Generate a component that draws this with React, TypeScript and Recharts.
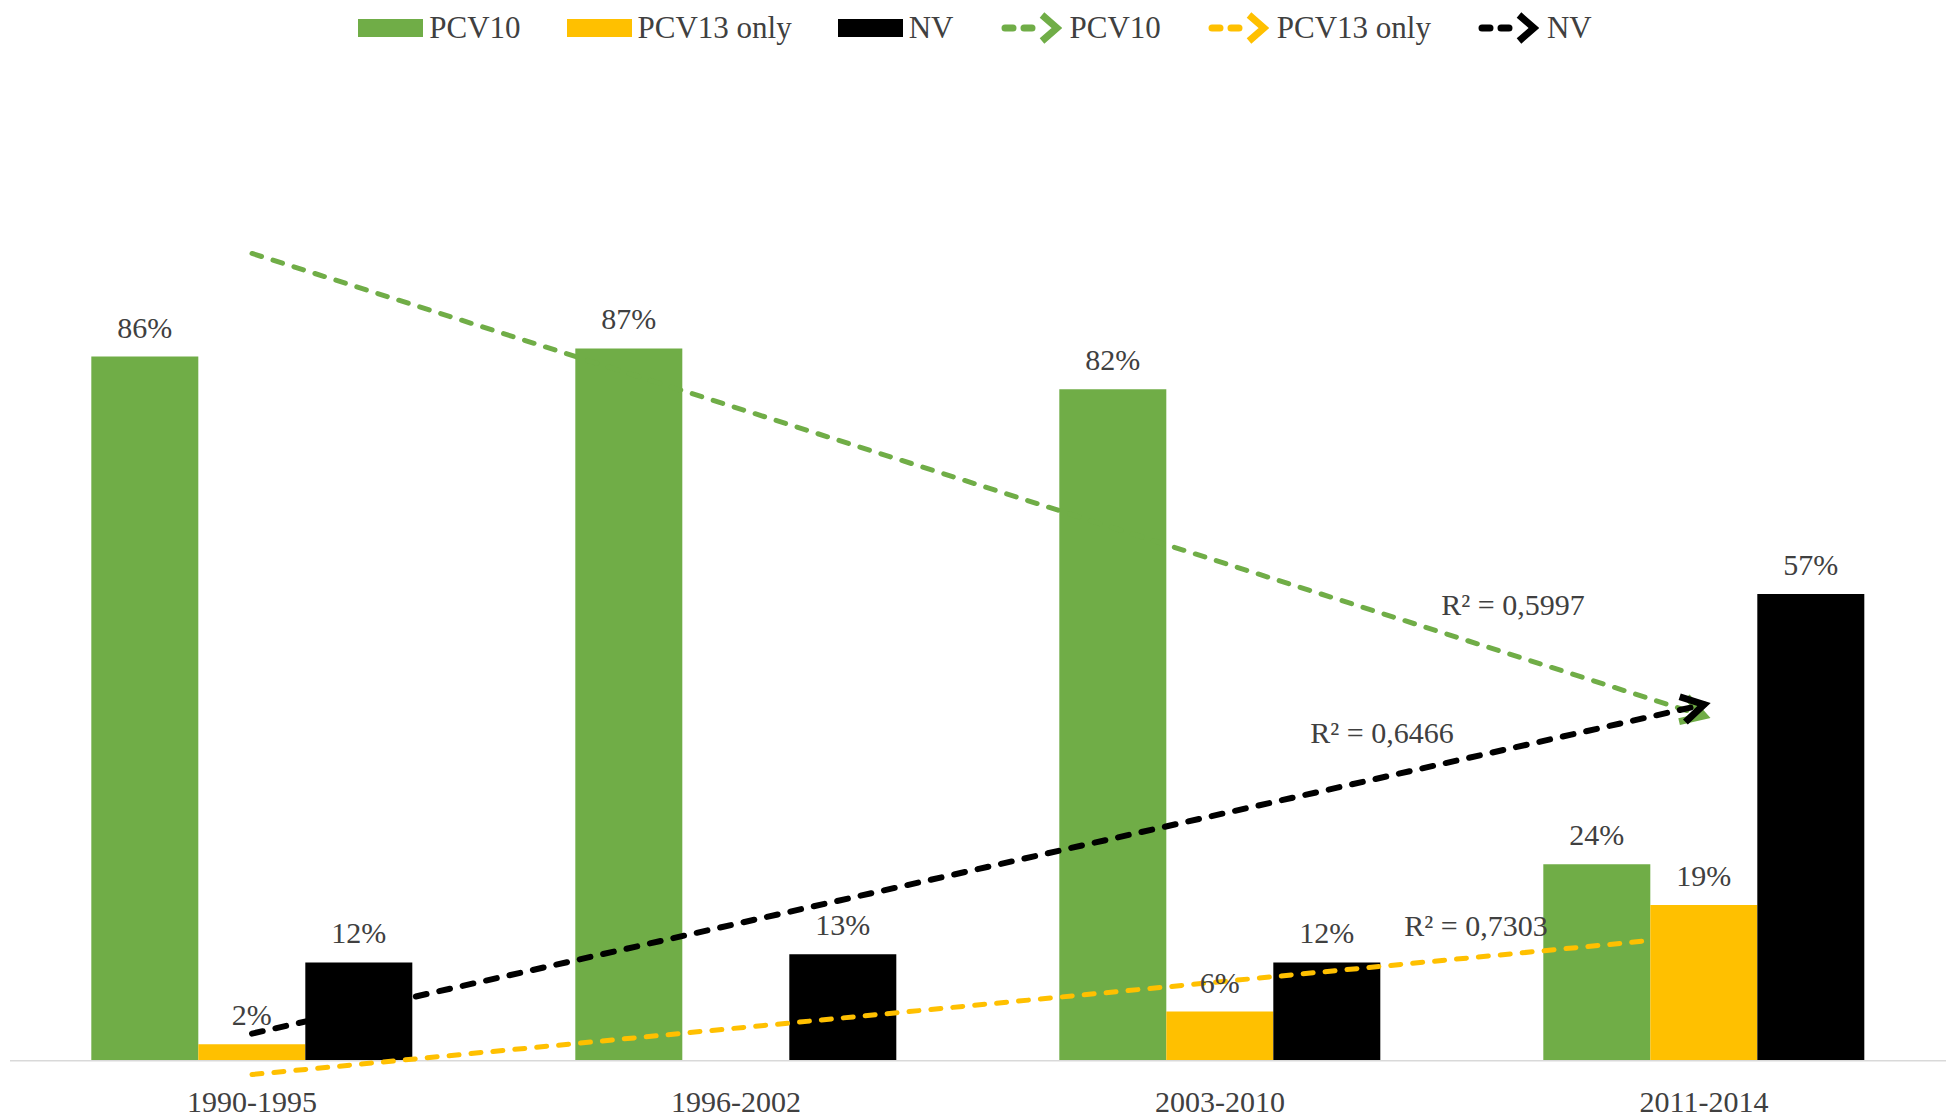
import React from "react";
import {
    ComposedChart,
    Bar,
    Line,
    XAxis,
    YAxis,
    Legend,
    LabelList,
    ReferenceLine,
} from "recharts";

document.body.style.margin = "0";

const periods = ["1990-1995", "1996-2002", "2003-2010", "2011-2014"];
const pcv10 = [86, 87, 82, 24];
const pcv13Only = [2, 0, 6, 19];
const nv = [12, 13, 12, 57];

const pcv10Trend = [98.6, null, null, 42.1];
const pcv13Trend = [-1.7, null, null, 15.3];
const nvTrend = [3.3, null, null, 43.5];

const r2Pcv10 = "R² = 0,5997";
const r2Pcv13 = "R² = 0,7303";
const r2Nv = "R² = 0,6466";

const legendNames = ["PCV10", "PCV13 only", "NV"];

const GREEN = "#70AD47";
const YELLOW = "#FFC000";
const BLACK = "#000000";
const TEXT = "#404040";
const FONT = "'Liberation Serif', 'Times New Roman', serif";

const data = periods.map((period, i) => ({
    period,
    pcv10: pcv10[i],
    pcv13Only: pcv13Only[i],
    nv: nv[i],
    pcv10Trend: pcv10Trend[i],
    pcv13Trend: pcv13Trend[i],
    nvTrend: nvTrend[i],
}));

const colors = [GREEN, YELLOW, BLACK];

const BarValueLabel = (props: any) => {
    const { x, y, width, value } = props;
    if (!value) return null;
    return (
        <text x={x + width / 2} y={y - 19} textAnchor="middle" fill={TEXT} fontSize={30} fontFamily={FONT}>
            {value}%
        </text>
    );
};

// R² text sits next to the end of its trendline
const r2Label = (text: string, dx: number, dy: number) => (props: any) => {
    const { x, y, index } = props;
    if (index !== 3 || x == null || y == null) return <g />;
    return (
        <text x={x + dx} y={y + dy} textAnchor="middle" fill={TEXT} fontSize={30} fontFamily={FONT}>
            {text}
        </text>
    );
};

function BarIcon({ color }: { color: string }) {
    return (
        <svg width={65} height={18} style={{ marginRight: 6 }}>
            <rect x={0} y={0} width={65} height={18} fill={color} />
        </svg>
    );
}

function ArrowIcon({ color }: { color: string }) {
    return (
        <svg width={62} height={36} style={{ marginRight: 8 }}>
            <path d="M 5 18 L 13 18 M 24 18 L 32 18" stroke={color} strokeWidth={7} strokeLinecap="round" />
            <path d="M 42 5 L 57 18 L 42 31" stroke={color} strokeWidth={7} fill="none" />
        </svg>
    );
}

const renderLegend = () => (
    <div
        style={{
            display: "flex",
            justifyContent: "center",
            alignItems: "center",
            height: 55,
            fontFamily: FONT,
            fontSize: 31,
            color: TEXT,
        }}
    >
        {legendNames.map((name, i) => (
            <div key={"b" + name} style={{ display: "flex", alignItems: "center", marginRight: 46 }}>
                <BarIcon color={colors[i]} />
                <span>{name}</span>
            </div>
        ))}
        {legendNames.map((name, i) => (
            <div key={"l" + name} style={{ display: "flex", alignItems: "center", marginRight: i < 2 ? 46 : 0 }}>
                <ArrowIcon color={colors[i]} />
                <span>{name}</span>
            </div>
        ))}
    </div>
);

export default function App() {
    return (
        <div style={{ position: "relative", width: 1950, height: 1119, background: "#fff" }}>
            <svg width={0} height={0} style={{ position: "absolute" }}>
                <defs>
                    {colors.map((c, i) => (
                        <marker
                            key={c}
                            id={"arrow-" + i}
                            markerUnits="userSpaceOnUse"
                            markerWidth={44}
                            markerHeight={44}
                            viewBox="-34 -22 44 44"
                            refX={0}
                            refY={0}
                            orient="auto"
                        >
                            <path
                                d="M -22 -13 L 0 0 L -22 13"
                                fill="none"
                                stroke={c}
                                strokeWidth={7}
                                strokeDasharray="none"
                            />
                        </marker>
                    ))}
                </defs>
            </svg>
            <ComposedChart
                width={1950}
                height={1119}
                data={data}
                margin={{ top: 187, right: 4, left: 10, bottom: 0 }}
                barCategoryGap="16.8%"
                barGap={0}
            >
                <XAxis
                    dataKey="period"
                    axisLine={false}
                    tickLine={false}
                    tickMargin={8}
                    height={42}
                    tick={{ fill: TEXT, fontSize: 30, fontFamily: FONT }}
                />
                <YAxis hide domain={[-2, 100]} />
                <Legend
                    verticalAlign="top"
                    align="center"
                    content={renderLegend}
                    wrapperStyle={{ top: 0, left: 0, width: 1950, height: 55 }}
                />
                <ReferenceLine y={0} stroke="#D9D9D9" strokeWidth={1.5} />
                <Bar dataKey="pcv10" name="PCV10" fill={GREEN} isAnimationActive={false}>
                    <LabelList dataKey="pcv10" content={BarValueLabel} />
                </Bar>
                <Bar dataKey="pcv13Only" name="PCV13 only" fill={YELLOW} isAnimationActive={false}>
                    <LabelList dataKey="pcv13Only" content={BarValueLabel} />
                </Bar>
                <Bar dataKey="nv" name="NV" fill={BLACK} isAnimationActive={false}>
                    <LabelList dataKey="nv" content={BarValueLabel} />
                </Bar>
                <Line
                    type="linear"
                    dataKey="pcv10Trend"
                    name="PCV10"
                    stroke={GREEN}
                    strokeWidth={5}
                    strokeDasharray="10 12"
                    strokeLinecap="round"
                    markerEnd="url(#arrow-0)"
                    connectNulls
                    dot={false}
                    activeDot={false}
                    label={r2Label(r2Pcv10, -191, -101)}
                    isAnimationActive={false}
                />
                <Line
                    type="linear"
                    dataKey="pcv13Trend"
                    name="PCV13 only"
                    stroke={YELLOW}
                    strokeWidth={5}
                    strokeDasharray="10 12"
                    strokeLinecap="round"
                    markerEnd="url(#arrow-1)"
                    connectNulls
                    dot={false}
                    activeDot={false}
                    label={r2Label(r2Pcv13, -228, 1)}
                    isAnimationActive={false}
                />
                <Line
                    type="linear"
                    dataKey="nvTrend"
                    name="NV"
                    stroke={BLACK}
                    strokeWidth={6}
                    strokeDasharray="11 13"
                    strokeLinecap="round"
                    markerEnd="url(#arrow-2)"
                    connectNulls
                    dot={false}
                    activeDot={false}
                    label={r2Label(r2Nv, -322, 38)}
                    isAnimationActive={false}
                />
            </ComposedChart>
        </div>
    );
}
